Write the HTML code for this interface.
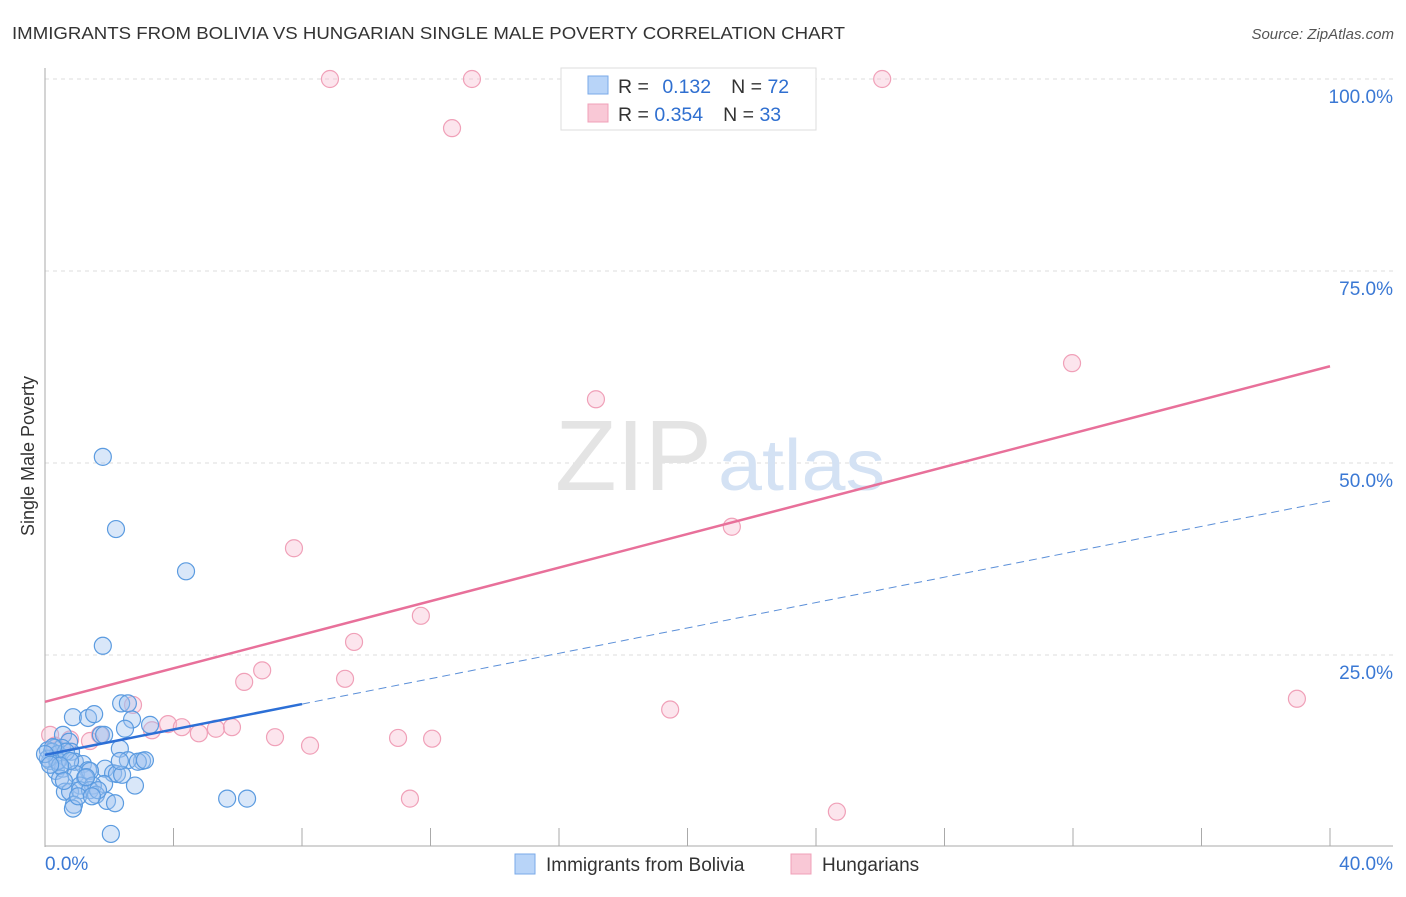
<!DOCTYPE html>
<html><head><meta charset="utf-8"><style>
body{margin:0;background:#fff;font-family:"Liberation Sans",sans-serif;}
svg text{font-family:"Liberation Sans",sans-serif;}
</style></head><body>
<svg id="chart" width="1406" height="892">
<text x="12" y="39" font-size="17.5" fill="#333" textLength="833" lengthAdjust="spacingAndGlyphs">IMMIGRANTS FROM BOLIVIA VS HUNGARIAN SINGLE MALE POVERTY CORRELATION CHART</text>
<text x="1394" y="39" font-size="15" fill="#555" text-anchor="end" font-style="italic">Source: ZipAtlas.com</text>
<text x="34" y="456" font-size="18" fill="#333" transform="rotate(-90 34 456)" text-anchor="middle">Single Male Poverty</text>
<g id="grid"></g>
<text x="712" y="490" font-size="100" fill="#e4e4e4" text-anchor="end" font-family="Liberation Serif" textLength="157" lengthAdjust="spacingAndGlyphs">ZIP</text>
<text x="718" y="490" font-size="72" fill="#d4e2f4" textLength="167" lengthAdjust="spacingAndGlyphs">atlas</text>
<g id="marks"></g>
<g>
<rect x="561" y="68" width="255" height="62" fill="#fff" stroke="#ddd"/>
<rect x="588" y="76" width="20" height="18" fill="#b8d4f8" stroke="#7aaae8"/>
<text x="618" y="93" font-size="19.5" fill="#333">R = <tspan fill="#2f6fd0" dx="8">0.132</tspan><tspan dx="20">N = </tspan><tspan fill="#2f6fd0">72</tspan></text>
<rect x="588" y="104" width="20" height="18" fill="#f9c8d6" stroke="#f0a0b8"/>
<text x="618" y="121" font-size="19.5" fill="#333">R = <tspan fill="#2f6fd0">0.354</tspan><tspan dx="20">N = </tspan><tspan fill="#2f6fd0">33</tspan></text>
</g>
<g>
<rect x="515" y="854" width="20" height="20" fill="#b8d4f8" stroke="#7aaae8"/>
<text x="546" y="871" font-size="19" fill="#333">Immigrants from Bolivia</text>
<rect x="791" y="854" width="20" height="20" fill="#f9c8d6" stroke="#f0a0b8"/>
<text x="822" y="871" font-size="19" fill="#333">Hungarians</text>
</g>
</svg>
<script>
const xTicks=[0,4,8,12,16,20,24,28,32,36,40];
const yTicks=[25,50,75,100];
const xTickLabels=["0.0%","40.0%"];
const boliviaX=[1.80,2.21,4.39,1.80,2.37,2.58,0.87,1.34,1.53,2.71,3.27,2.49,1.74,1.84,0.56,0.75,0.31,0.53,0.09,0.22,0.40,0.81,2.33,0.16,0.37,0.93,1.18,1.34,1.87,3.02,2.58,2.89,3.11,0.34,0.56,0.96,1.40,2.12,2.24,2.40,0.47,1.25,1.84,1.09,1.49,2.80,0.62,0.78,1.09,1.40,1.59,0.90,0.87,1.93,2.18,5.67,6.29,2.05,0.40,0.65,0.09,0.25,1.65,1.28,0.78,2.33,0.47,0.00,0.16,1.03,0.59,1.46];
const boliviaY=[50.8,41.4,35.9,26.2,18.7,18.7,16.9,16.8,17.3,16.6,15.9,15.4,14.6,14.6,14.6,13.7,12.9,12.9,12.6,12.4,12.1,12.4,12.8,11.2,11.2,11.1,10.8,10.0,10.2,11.2,11.3,11.1,11.3,9.9,10.2,9.5,9.9,9.6,9.5,9.4,8.9,9.0,8.2,8.0,8.0,8.0,7.2,7.2,7.4,7.4,6.8,5.5,5.0,6.0,5.7,6.3,6.3,1.7,11.2,12.4,11.5,13.0,7.4,9.1,11.2,11.2,10.6,12.1,10.7,6.6,8.6,6.6];
const hungX=[8.87,13.29,26.06,12.67,31.97,17.15,7.75,21.38,11.70,9.62,6.76,6.20,9.34,2.74,3.83,4.26,3.33,5.32,5.82,4.79,7.16,8.25,10.99,12.05,19.46,38.97,11.36,24.65,0.16,0.78,1.71,0.31,1.40];
const hungY=[100,100,100,93.6,63.0,58.3,38.9,41.7,30.1,26.7,23.0,21.5,21.9,18.5,16.0,15.6,15.2,15.4,15.6,14.8,14.3,13.2,14.2,14.1,17.9,19.3,6.3,4.6,14.6,14.0,14.6,13.2,13.8];
const boliviaFit=[12.0,45.05];
const hungFit=[18.9,62.6];
const NS="http://www.w3.org/2000/svg";
const X=v=>45+v*32.125, Y=v=>847-v*7.68;
function mk(tag,attrs,parent){const e=document.createElementNS(NS,tag);for(const k in attrs)e.setAttribute(k,attrs[k]);parent.appendChild(e);return e;}
const grid=document.getElementById('grid'), marks=document.getElementById('marks');
yTicks.forEach(t=>{
 const l=mk('line',{x1:45,x2:1393,y1:Y(t),y2:Y(t),stroke:'#ddd','stroke-dasharray':'4,4'},grid);
 
 
 const tx=mk('text',{x:1393,y:Y(t)+24,'font-size':19,fill:'#3a78d4','text-anchor':'end'},grid);
 tx.textContent=t.toFixed(1)+'%';
 
 
});
const ax=mk('line',{x1:45,x2:45,y1:68,y2:847,stroke:'#aaa'},grid);


const bx=mk('line',{x1:45,x2:1393,y1:846,y2:846,stroke:'#aaa'},grid);


xTicks.forEach(t=>{
 const l=mk('line',{x1:X(t),x2:X(t),y1:828,y2:846,stroke:'#aaa'},grid);
 
 
});
[[0,'start',45],[40,'end',1393]].forEach((d,i)=>{
 const tx=mk('text',{x:d[2],y:870,'font-size':19,fill:'#3a78d4','text-anchor':d[1]},grid);
 tx.textContent=xTickLabels[i];
 
 
});
hungX.forEach((v,i)=>{
 const c=mk('circle',{cx:X(v),cy:Y(hungY[i]),r:8.5,fill:'rgba(248,190,210,0.4)',stroke:'#f0a0b8','stroke-width':1.2},marks);
 
 
});
boliviaX.forEach((v,i)=>{
 const c=mk('circle',{cx:X(v),cy:Y(boliviaY[i]),r:8.5,fill:'rgba(160,196,240,0.4)',stroke:'#5b9be0','stroke-width':1.2},marks);
 
 
});
const bAt=x=>boliviaFit[0]+(boliviaFit[1]-boliviaFit[0])*x/40;
const hAt=x=>hungFit[0]+(hungFit[1]-hungFit[0])*x/40;
const pl=mk('line',{x1:X(0),y1:Y(hAt(0)),x2:X(40),y2:Y(hAt(40)),stroke:'#e8709a','stroke-width':2.5},marks);


const bd=mk('line',{x1:X(8),y1:Y(bAt(8)),x2:X(40),y2:Y(bAt(40)),stroke:'#5b8fd8','stroke-width':1,'stroke-dasharray':'8,5'},marks);


const bs=mk('line',{x1:X(0),y1:Y(bAt(0)),x2:X(8),y2:Y(bAt(8)),stroke:'#2c6fd6','stroke-width':2.5},marks);


</script>
</body></html>
